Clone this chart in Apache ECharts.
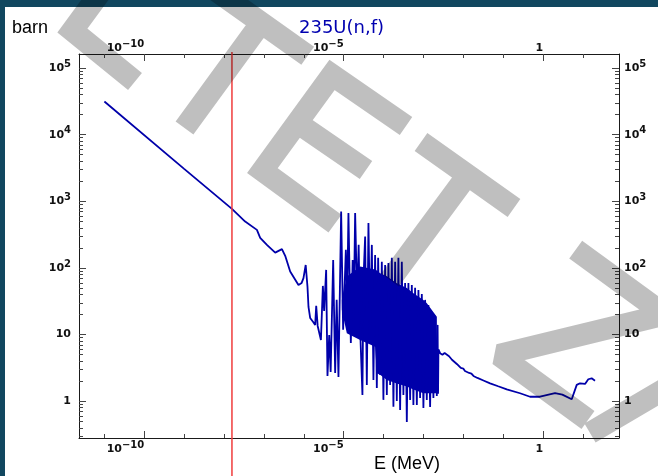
<!DOCTYPE html>
<html lang="en">
<head>
<meta charset="UTF-8">
<title>235U(n,f)</title>
<style>
  html, body { margin: 0; padding: 0; background: #fff; }
  #chart { width: 658px; height: 476px; }
</style>
</head>
<body>
<div id="chart"></div>
<script src="https://cdn.jsdelivr.net/npm/echarts@6/dist/echarts.min.js"></script>
<script>
// values: energy in MeV, cross section in barn

// thermal / low resonance part
var lowE = [1e-11, 1e-9, 1.58e-8, 3.39e-8, 6.68e-8, 8.07e-8, 1.19e-7, 1.92e-7, 2.83e-7, 3.42e-7,
    4.56e-7, 7.36e-7, 8.85e-7, 9.82e-7, 1.117e-6, 1.239e-6, 1.313e-6, 1.445e-6, 1.72e-6, 1.93e-6,
    2.05e-6, 2.23e-6, 2.69e-6, 3.01e-6, 3.24e-6, 3.64e-6, 3.93e-6];
var lowSigma = [31500, 3070, 771, 497, 373, 283, 222, 170, 192, 152,
    88.3, 55.7, 59.7, 70.3, 111, 52, 26, 17.8, 15.5, 14,
    27, 13.5, 8.3, 53.8, 22.7, 93.6, 2.4];

// resolved resonance region (peaks and dips)
var resE = [4.34e-6, 4.72e-6, 5.46e-6, 6.12e-6, 6.68e-6, 7.41e-6, 8.65e-6, 9.70e-6, 1.135e-5, 1.225e-5,
    1.318e-5, 1.514e-5, 1.681e-5, 1.782e-5, 1.941e-5, 2.178e-5, 2.377e-5, 2.594e-5, 2.958e-5, 3.133e-5,
    3.457e-5, 3.811e-5, 4.185e-5, 4.615e-5, 5.09e-5, 5.58e-5, 6.15e-5, 6.79e-5, 7.33e-5, 8.22e-5,
    9.06e-5, 9.93e-5, 1.096e-4, 1.21e-4, 1.327e-4, 1.463e-4, 1.614e-4, 1.77e-4, 1.954e-4, 2.153e-4,
    2.36e-4, 2.606e-4, 2.875e-4, 3.15e-4, 3.477e-4, 3.837e-4, 4.207e-4, 4.645e-4, 5.12e-4, 5.61e-4,
    6.19e-4, 6.84e-4, 7.5e-4, 8.26e-4, 9.12e-4, 1.0e-3, 1.104e-3, 1.216e-3, 1.334e-3, 1.472e-3,
    1.625e-3, 1.781e-3, 1.965e-3, 2.168e-3, 2.27e-3, 2.33e-3, 2.38e-3];
var resSigma = [9.9, 2.75, 132, 2.66, 33.2, 2.32, 703, 11.8, 187, 33.2,
    665, 7.5, 132, 16.6, 665, 33.2, 222, 11.8, 1.24, 66.3,
    296, 1.76, 471, 11.8, 222, 2.09, 157, 1.58, 142, 2.48,
    124, 1.05, 111, 1.24, 119, 1.76, 142, 0.83, 124, 1.01,
    142, 0.74, 124, 1.24, 59.7, 0.49, 59.7, 1.05, 55.7, 0.88,
    50.3, 0.88, 46.9, 1.12, 40.8, 0.79, 33.2, 1.05, 27.9, 0.82,
    21.9, 1.12, 19.1, 1.2, 14.0, 1.3, 6.0];

// dense part of the resonance region, drawn as a filled band
var coreE = [9.0e-6, 1.2e-5, 2.59e-5, 6.15e-5, 6.79e-5, 8.22e-5, 1.21e-4, 2.15e-4, 3.84e-4, 5.61e-4, 1.0e-3, 1.22e-3, 2.17e-3];
var coreTop = [33.2, 74.3, 105, 95, 92, 83.6, 75, 59.1, 50, 41.8, 33, 29.6, 18.6];
var coreBottom = [23.5, 10.5, 8.3, 6.6, 2.63, 2.5, 2.09, 1.85, 1.66, 1.5, 1.32, 1.32, 1.32];

// unresolved + fast region
var fastE = [2.62e-3, 3.0e-3, 3.4e-3, 4.4e-3, 5.2e-3, 5.8e-3, 7.0e-3, 7.6e-3, 8.65e-3, 1.0e-2,
    1.1e-2, 1.2e-2, 1.4e-2, 1.6e-2, 1.8e-2, 2.26e-2, 3.2e-2, 4.7e-2, 7.5e-2, 0.123,
    0.265, 0.472, 0.841, 2.0, 3.05, 5.24, 7.0, 8.46, 11.3, 13.65, 16.6, 20.1];
var fastSigma = [5.26, 5.0, 5.3, 4.74, 4.2, 4.45, 3.6, 3.8, 3.16, 3.1,
    2.85, 2.95, 2.66, 2.6, 2.4, 2.24, 2.05, 1.86, 1.68, 1.51,
    1.32, 1.17, 1.17, 1.32, 1.26, 1.07, 1.76, 1.86, 1.82, 2.14, 2.21, 2.04];

var thermalE = 1.58e-8;   // red marker line

// axes
var xMin = 2.307e-12, xMax = 80.35;
var yMin = 0.2812, yMax = 162300;
var xTickValues = [1e-10, 1e-5, 1];
var xTickLabels = [['10', '\u221210'], ['10', '\u22125'], ['1', '']];
var xMinorValues = [1e-11, 1e-10, 1e-9, 1e-8, 1e-7, 1e-6, 1e-5, 1e-4, 1e-3, 1e-2, 1e-1, 1, 10];
var yTickValues = [1, 10, 100, 1000, 10000, 100000];
var yTickLabels = [['1', ''], ['10', ''], ['10', '2'], ['10', '3'], ['10', '4'], ['10', '5']];
var yMinorValues = [0.3, 0.4, 0.5, 0.6, 0.7, 0.8, 0.9,
    2, 3, 4, 5, 6, 7, 8, 9, 20, 30, 40, 50, 60, 70, 80, 90,
    200, 300, 400, 500, 600, 700, 800, 900, 2000, 3000, 4000, 5000, 6000, 7000, 8000, 9000,
    20000, 30000, 40000, 50000, 60000, 70000, 80000, 90000];

var BLUE = '#0000aa';

function pairs(xs, ys) {
    var out = [];
    for (var i = 0; i < xs.length; i++) out.push([xs[i], ys[i]]);
    return out;
}
var curve = pairs(lowE, lowSigma).concat(pairs(resE, resSigma), pairs(fastE, fastSigma));

var labelRich = {
    b: { fontFamily: 'DejaVu Sans', fontWeight: 'bold', fontSize: 11, color: '#111', lineHeight: 18, verticalAlign: 'middle' },
    e: { fontFamily: 'DejaVu Sans', fontWeight: 'bold', fontSize: 10, color: '#111', lineHeight: 10, verticalAlign: 'top' }
};

function tickFormatter(values, labels) {
    return function (v) {
        for (var i = 0; i < values.length; i++) {
            if (Math.abs(Math.log10(values[i] / v)) < 1e-6) {
                var p = labels[i];
                return p[1] ? '{b|' + p[0] + '}{e|' + p[1] + '}' : '{b|' + p[0] + '}';
            }
        }
        return '';
    };
}

function axis(dim, pos, major) {
    var isX = dim === 'x';
    var vals = major ? (isX ? xTickValues : yTickValues) : (isX ? xMinorValues : yMinorValues);
    var a = {
        type: 'log',
        logBase: 10,
        position: pos,
        min: isX ? xMin : yMin,
        max: isX ? xMax : yMax,
        axisLine: { show: major, onZero: false, lineStyle: { color: '#1a1a1a', width: 1 } },
        axisTick: { show: true, inside: true, length: major ? 7 : 4, customValues: vals,
            lineStyle: { color: '#444', width: 1 } },
        axisLabel: { show: false },
        splitLine: { show: false },
        minorTick: { show: false }
    };
    if (major) {
        a.axisLabel = {
            show: true,
            customValues: vals,
            formatter: isX ? tickFormatter(xTickValues, xTickLabels) : tickFormatter(yTickValues, yTickLabels),
            rich: labelRich,
            margin: isX ? (pos === 'top' ? -3 : 2) : (pos === 'left' ? 8 : 5)
        };
        if (isX) a.axisLabel.align = 'right';
    }
    return a;
}

// a stroked shape made of several open polylines, painted in one pass
echarts.graphic.registerShape('strokeSet', echarts.graphic.extendShape({
    shape: { segs: [] },
    buildPath: function (ctx, shape) {
        shape.segs.forEach(function (seg) {
            ctx.moveTo(seg[0][0], seg[0][1]);
            for (var i = 1; i < seg.length; i++) ctx.lineTo(seg[i][0], seg[i][1]);
        });
    }
}));

var chart = echarts.init(document.getElementById('chart'), null, { renderer: 'canvas' });

var option = {
    animation: false,
    backgroundColor: '#fff',
    title: {
        text: '235U(n,f)',
        left: 294,
        top: 14,
        textStyle: { color: '#0000b0', fontFamily: 'DejaVu Sans', fontWeight: 'normal', fontSize: 18 }
    },
    grid: { left: 79, right: 39, top: 54, bottom: 38 },
    xAxis: [axis('x', 'bottom', true), axis('x', 'bottom', false), axis('x', 'top', true), axis('x', 'top', false)],
    yAxis: [axis('y', 'left', true), axis('y', 'left', false), axis('y', 'right', true), axis('y', 'right', false)],
    series: [
        {
            type: 'custom',
            coordinateSystem: 'cartesian2d',
            xAxisIndex: 0,
            yAxisIndex: 0,
            silent: true,
            data: [[coreE[0], coreTop[0]]],
            renderItem: function (params, api) {
                var pts = [], i;
                for (i = 0; i < coreE.length; i++) pts.push(api.coord([coreE[i], coreTop[i]]));
                for (i = coreE.length - 1; i >= 0; i--) pts.push(api.coord([coreE[i], coreBottom[i]]));
                return { type: 'polygon', shape: { points: pts }, style: { fill: BLUE } };
            }
        },
        {
            type: 'line',
            xAxisIndex: 0,
            yAxisIndex: 0,
            data: curve,
            showSymbol: false,
            silent: true,
            lineStyle: { color: BLUE, width: 1.8, join: 'bevel' }
        }
    ],
    graphic: [
        { type: 'rect', shape: { x: 0, y: 0, width: 658, height: 7 }, style: { fill: '#11475f' }, z: -10 },
        { type: 'rect', shape: { x: 0, y: 0, width: 5, height: 476 }, style: { fill: '#11475f' }, z: -10 },
        { type: 'text', x: 12, y: 28.5, style: { text: 'barn', fontFamily: 'Liberation Sans', fontSize: 18, fill: '#000', align: 'left', verticalAlign: 'middle' } },
        { type: 'text', x: 374, y: 464, style: { text: 'E (MeV)', fontFamily: 'Liberation Sans', fontSize: 18, fill: '#000', align: 'left', verticalAlign: 'middle' } }
    ]
};
chart.setOption(option);

// red marker through the plot, placed with the x axis scale
var redX = chart.convertToPixel({ xAxisIndex: 0 }, thermalE);
chart.setOption({
    graphic: [
        { id: 'thermal', type: 'line', shape: { x1: redX, y1: 52, x2: redX, y2: 476 },
          style: { stroke: '#f03c3c', lineWidth: 1.5 }, z: 50 },
        { id: 'watermark', type: 'strokeSet', silent: true, z: 100,
          shape: { segs: [
            [[108, -18], [72.4, 30.6], [135, 81.5]],
            [[214.7, -10.3], [307.7, 55.7]], [[261.2, 22.7], [184.5, 128]],
            [[406, 126], [332, 75], [262.4, 170.6], [335, 223.7]], [[297.2, 122.8], [366, 170]],
            [[421, 142], [514, 208]], [[467.5, 175], [390, 280]],
            [[575.7, 249.7], [664.8, 314.6], [499, 355], [588, 420]],
            [[590, 433], [680, 380]]
          ] },
          style: { fill: null, stroke: 'rgba(0,0,0,0.25)', lineWidth: 22, lineJoin: 'miter', miterLimit: 2, lineCap: 'butt' } }
    ]
});
</script>
</body>
</html>
